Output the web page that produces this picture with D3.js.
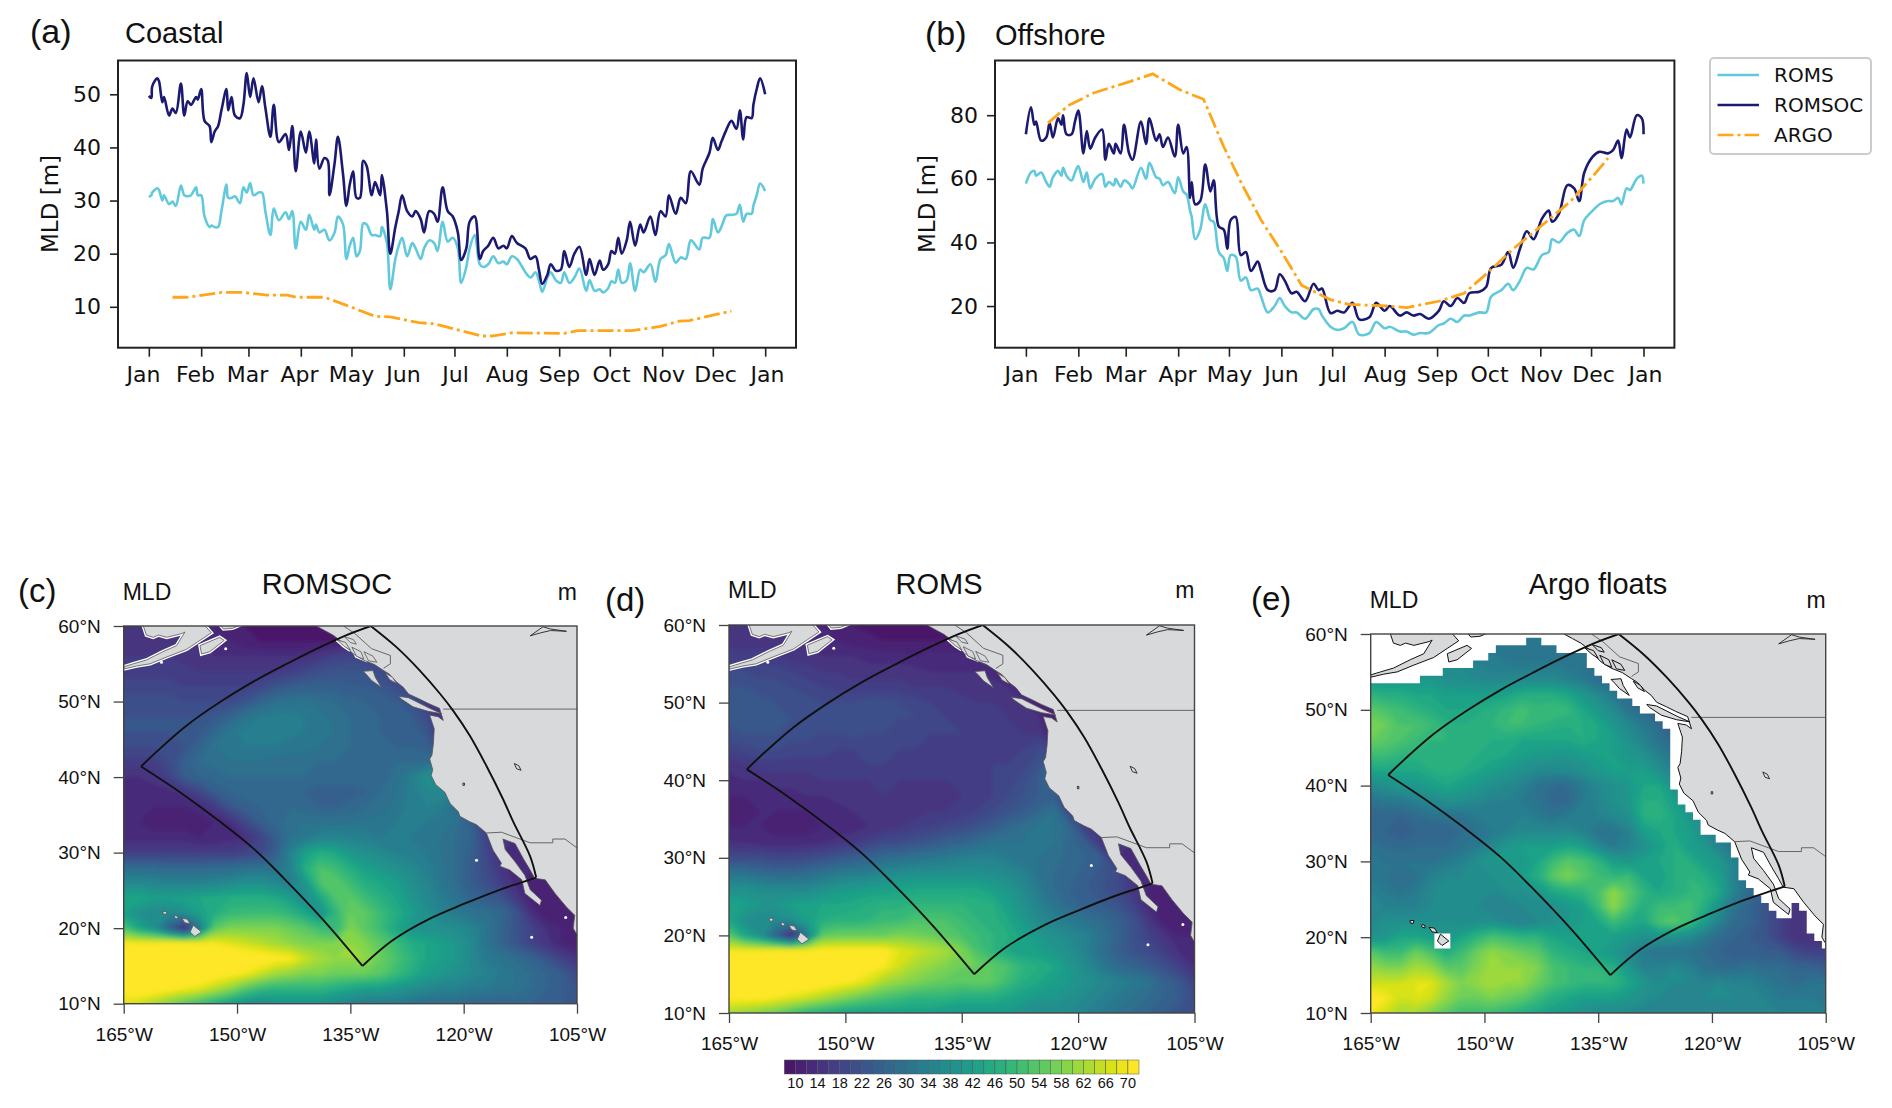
<!DOCTYPE html>
<html>
<head>
<meta charset="utf-8">
<script src="https://cdnjs.cloudflare.com/ajax/libs/d3/7.8.5/d3.min.js"></script>
<style>
  body { margin: 0; background: #fff; }
  svg { display: block; }
  .sans { font-family: "Liberation Sans", sans-serif; fill: #111; }
  .dv { font-family: "DejaVu Sans", sans-serif; fill: #111; }
</style>
</head>
<body>
<svg id="fig" width="1892" height="1108"></svg>
<script>
// ---- time series (day of year, MLD in m)
var monthLabels = ["Jan","Feb","Mar","Apr","May","Jun","Jul","Aug","Sep","Oct","Nov","Dec","Jan"];
var monthDays = [0,31,59,90,120,151,181,212,243,273,304,334,365];

var coastalDays = [0,1.5,2,5,6,8,9,12,14,16,19,21,23,25,28,29,31,33,36,37,39,41,43,46,47,49,51,54,56,58,60,62,65,67,69,72,74,77,81,83,85,87,90,93,95,98,99,101,104,106,107,110,112,115,117,119,121,123,125,127,129,132,134,137,138,141,143,146,148,150,153,156,158,161,163,166,169,171,174,177,180,183,185,188,190,193,196,198,201,204,207,210,212,215,218,223,226,229,231,233,236,238,241,244,246,249,252,255,259,261,264,267,269,272,274,276,278,280,283,285,288,291,293,297,300,303,306,308,312,315,318,321,326,328,332,334,337,339,342,345,348,350,352,354,357,358,360,362,365];
var coastalRomsoc = [49.7,49.3,51.5,53,52.5,48.5,49.5,46,47.3,46.5,52,46,48.7,48,49.5,49,51,45,44,41,43,44,47,51,47,49.5,46,45.5,48,54,49.5,53,48.5,51.5,47.5,42,48,41,42.5,39.5,44,35.5,43,39,43,37,41.5,36,38,37.5,31,37,42,35,29,33,35.5,30.5,30.5,37.5,36.5,31,33.5,31,34.8,28,20,25,28,31,28,27,28,26.5,24,28,27.5,26,32.5,28,27,24,18.8,21,26,27,19,20.5,21.5,23,21,21.5,21,23.3,22,21,19,19.5,17,14.3,16,18,16.8,17,20.5,17.5,20,21.3,16,19,16,18.7,17,18,20.5,20,23,20,22.5,26,21.5,25.5,24,27,23.5,28,27,31,27.5,30.5,29.5,35.5,33,36,39,41.8,39.5,41,43.3,45,43.5,47,41.5,45.7,45.5,48,51,53,50];
var coastalRoms = [30.7,31,31.5,32.3,32,30,31,29.3,29.8,29,32.8,31,30.8,31,32.5,31,31,27,25,25.3,25,25,28,33,30.5,30.5,30.8,29.5,32.5,31.5,33.3,31,31.5,31.5,28,23.5,28.5,26.3,27.8,26.5,28,21,26,24.5,27.3,24.5,25.5,24,24.5,23,22.5,24,27,25.5,19,21.5,23,19.5,20.5,25.7,25.5,23.5,23.5,23.3,25,22,13.3,19,21.5,23,19.5,22,21,19,21,22.5,22,20.5,26,22.3,23,21,14.5,17.5,21,23.5,18,17.5,18,19.5,18.2,18.5,18,19.5,19,16.5,15.5,16.5,15,12.8,15.5,16.5,15,14.5,16.5,14.5,15.5,17.2,13,15,13,13.3,12.7,13.5,14.8,14.5,17,14.5,15,18.2,13,17,16.5,18,14.7,19,19.7,21.8,18.3,19.3,19,22.5,20.8,23,23,26.5,24,25,27.2,27.3,27.5,29.2,26,27.5,27.5,29,31,33.2,31.8];
var coastalArgoDays = [14,23,43,56,70,82,87,104,116,134,143,160,169,181,197,203,215,246,254,286,303,314,320,345];
var coastalArgo = [11.8,11.8,12.7,12.7,12.2,12.2,11.8,11.8,10.4,8.2,8.1,7.0,6.8,5.8,4.5,4.5,5.1,5.0,5.5,5.5,6.3,7.3,7.4,9.2];

var offshoreDays = [0,3,5,6,9,12,14,16,19,21,22,24,27,29,31,34,36,38,41,45,47,49,52,53,56,58,61,63,68,71,73,77,79,81,84,88,90,93,95,97,98,100,103,106,109,111,114,117,119,121,124,127,130,133,137,139,143,147,150,153,157,160,165,170,173,175,180,184,188,193,197,203,207,212,215,221,225,229,233,238,244,247,251,255,259,262,268,272,275,281,285,288,292,296,300,305,309,311,315,320,324,327,330,335,339,344,347,350,352,355,357,361,364,365];
var offshoreRomsoc = [74,82.5,77,78,72,73,77.5,73,79,77,80,74,74,78,81.5,68,75,69.5,73,75.5,66,71,68,71,68,77,68,66,78,71,79,72,74,70,73,67,77,68,70,54,59,52,53,64.5,56,59.5,45,44,38,47,48,36,37,31,34,31,25,25,30,28,24,24.5,21.5,27,25,25.5,17.8,18.5,18,21,15.8,16.5,21,18.5,20,17,18,17,17.5,16,18.5,21.5,20,22.5,21,24,24.5,26,32,33,37,32,38,43.5,41,47.5,50,46.5,49,58,57,53,62,67,68.5,68,69,72,66.5,75.5,73,80,79,74];
var offshoreRoms = [58.5,62,62.5,61,62,59,57.5,60.5,62.5,61,63.5,61,59.5,62,64,59,62,57,60,61.5,57.5,59,58,60,57.5,59.5,58.5,57,63.5,60,65,60.5,60,58,59,55.5,60.5,56,55,50,48,41,44,52,47,46.5,37,35,31,36,35.5,28,29,25,25.5,23,18,20,22.5,20,18,18,16,19,19,17,13.5,12.5,13,15,11,11.5,15,13,13.5,12,12,11,11.5,11.5,14,14.5,16,15,17,17,18,18,23,25,27,25,28,32,31.5,36,37,41,40,43,44,42,47,50,52,53,53,54,52,57,56.5,60,61,58.5];
var offshoreArgoDays = [13,25,40,61,75,91,105,117,128,139,150,163,180,191,214,225,244,259,274,288,303,322,337,344];
var offshoreArgo = [77.5,83,87,90.5,93,88,85,70,58,47,38,26.5,22,20.5,20,19.5,21.5,24,31,38,44.5,53,62,66.5];

var coastalTicks = [10,20,30,40,50];
var offshoreTicks = [20,40,60,80];

// ---- map axes and colour levels
var lonTicks = [-165,-150,-135,-120,-105];
var latTicks = [10,20,30,40,50,60];
var levels = [10,12,14,16,18,20,22,24,26,28,30,32,34,36,38,40,42,44,46,48,50,52,54,56,58,60,62,64,66,68,70];
var levelLabels = [10,14,18,22,26,30,34,38,42,46,50,54,58,62,66,70];

// grids: 2 degree cells, rows from 60N to 10N, columns from 165W to 105W
var gridCols = 31, gridRows = 26;
var romsocGrid = [
14,14,14,14,14,13,12,11,10,9,8,8,8,8,9,10,10,10,10,10,10,10,10,10,10,10,10,10,10,10,10,
15,15,15,15,15,14,13,12,11,10,10,10,10,10,10,10,10,10,10,10,10,10,10,10,10,10,10,10,10,10,10,
16,16,16,16,15,15,14,14,14,14,14,14,14,16,18,19,18,14,12,12,12,12,12,12,12,12,12,12,12,12,12,
17,17,17,17,17,16,16,16,16,16,16,17,19,21,22,22,22,20,16,14,14,14,14,14,14,14,14,14,14,14,14,
19,19,19,19,18,18,18,18,18,19,22,24,25,25,25,24,24,23,21,17,14,14,14,14,14,14,14,14,14,14,14,
21,21,21,21,20,20,20,20,22,26,29,30,30,29,28,27,26,25,24,22,16,14,14,14,14,14,14,14,14,14,14,
22,22,22,22,22,22,23,26,30,32,33,33,32,31,29,28,27,26,25,24,21,14,14,14,14,14,14,14,14,14,14,
22,22,22,22,22,23,27,31,33,34,34,33,32,31,30,28,27,26,25,25,23,14,14,14,14,14,14,14,14,14,14,
20,20,20,20,22,26,30,31,32,32,32,31,31,30,29,28,27,27,26,26,25,20,15,15,15,15,15,15,15,15,15,
17,17,17,20,25,28,29,30,30,30,29,29,29,28,28,27,27,27,28,28,28,33,33,33,33,33,33,33,33,33,33,
14,14,15,18,24,26,27,28,28,28,28,28,28,27,27,27,27,27,29,33,38,38,38,38,38,38,38,38,38,38,38,
13,13,13,13,15,19,24,26,27,27,27,27,26,25,25,25,26,28,30,33,35,36,34,34,34,34,34,34,34,34,34,
12,12,12,12,12,13,16,22,25,26,27,28,27,26,26,27,28,29,31,33,34,33,28,24,24,24,24,24,24,24,24,
12,12,11,11,11,11,12,14,19,24,27,29,30,30,30,30,31,31,32,32,32,31,30,24,16,16,16,16,16,16,16,
13,13,13,13,13,12,12,13,14,18,24,30,32,34,35,34,33,32,32,32,31,30,28,26,18,14,14,14,14,14,14,
17,17,17,17,17,17,17,17,18,19,24,34,42,46,44,40,38,36,34,33,32,30,28,25,19,14,12,12,12,12,12,
28,28,28,27,27,27,28,28,29,30,29,34,46,52,50,46,42,40,38,36,33,31,28,24,20,15,12,12,12,12,12,
36,36,35,34,34,34,35,36,38,38,36,32,40,52,54,50,46,44,42,38,35,31,28,24,21,17,13,11,10,10,10,
44,44,42,42,43,44,45,46,46,46,45,42,36,44,52,54,50,47,44,40,36,33,30,26,24,22,16,11,10,10,10,
42,38,36,36,38,42,46,49,50,50,50,48,44,38,48,56,54,50,46,42,38,34,32,30,29,27,22,14,10,10,10,
52,44,38,25,12,30,54,58,58,58,58,56,54,50,48,58,54,50,44,40,38,38,37,35,31,26,22,18,14,12,11,
70,70,70,72,72,70,70,68,66,64,62,60,58,58,58,60,58,54,50,46,44,42,40,36,30,26,22,18,15,12,11,
72,74,76,76,76,76,76,76,74,74,72,71,66,62,60,60,60,56,52,48,44,42,40,36,32,30,28,26,22,18,15,
74,76,76,76,76,76,74,72,70,66,62,60,58,58,56,56,56,54,50,46,42,40,38,36,34,32,30,28,26,24,20,
72,74,74,72,70,68,64,60,54,50,48,48,48,48,46,44,42,42,40,38,36,34,34,32,32,30,30,28,26,24,22,
68,66,62,58,54,50,46,42,38,36,38,38,38,38,36,34,32,32,32,30,28,28,28,26,26,26,26,26,24,24,22
];
var romsGrid = [
14,14,14,14,13,13,12,11,10,9,8,8,8,9,9,10,10,10,10,10,10,10,10,10,10,10,10,10,10,10,10,
15,15,15,15,15,14,13,12,11,11,10,10,10,10,10,10,10,10,10,10,10,10,10,10,10,10,10,10,10,10,10,
17,17,17,16,15,15,14,14,14,13,13,13,12,13,13,13,12,11,11,11,11,11,11,11,11,11,11,11,11,11,11,
20,20,19,19,18,17,16,16,15,15,15,15,15,14,14,14,14,13,11,11,11,11,11,11,11,11,11,11,11,11,11,
22,22,21,21,20,19,18,17,17,17,17,17,16,16,16,15,15,15,14,12,11,11,11,11,11,11,11,11,11,11,11,
23,23,23,22,21,21,20,20,20,21,21,20,19,18,17,17,16,16,15,14,11,11,11,11,11,11,11,11,11,11,11,
23,23,23,23,22,21,21,21,21,22,21,20,20,19,18,17,17,16,16,15,14,10,10,10,10,10,10,10,10,10,10,
21,22,22,22,21,21,20,20,21,20,20,19,19,18,18,18,17,17,16,16,16,10,10,10,10,10,10,10,10,10,10,
18,19,20,20,19,19,19,18,18,19,18,18,18,17,17,17,17,17,17,18,20,18,18,18,18,18,18,18,18,18,18,
15,16,17,17,17,17,17,17,17,18,18,17,17,16,16,16,17,18,18,19,22,28,28,28,28,28,28,28,28,28,28,
13,14,14,15,15,15,16,16,16,16,16,16,16,16,16,16,17,18,19,21,24,26,26,26,26,26,26,26,26,26,26,
12,12,13,13,13,14,14,15,15,15,16,15,14,14,15,16,17,18,20,22,24,24,14,14,14,14,14,14,14,14,14,
11,11,12,12,12,12,12,13,14,14,14,14,15,16,16,17,18,20,22,24,27,30,18,18,18,18,18,18,18,18,18,
12,12,12,11,11,11,12,12,13,14,15,16,17,18,19,20,22,24,27,29,31,30,27,16,16,16,16,16,16,16,16,
14,14,13,13,13,13,14,15,16,18,20,20,22,23,25,26,28,30,30,30,30,30,27,24,14,14,14,14,14,14,14,
20,20,20,19,19,20,21,23,24,26,28,29,30,31,32,34,34,34,32,30,30,29,27,26,24,14,12,12,12,12,12,
30,30,28,27,27,28,30,32,33,33,36,37,38,38,38,38,38,37,36,34,30,28,27,25,23,20,14,12,12,12,12,
38,38,37,36,36,36,38,40,41,42,42,43,44,44,44,44,44,42,40,36,32,28,26,24,22,20,16,12,10,10,10,
44,42,40,40,42,43,44,44,45,46,47,47,48,48,48,48,47,46,42,38,34,30,27,25,24,22,18,13,10,10,10,
44,38,36,36,38,42,46,47,47,48,50,50,52,52,52,50,48,47,44,40,36,34,32,30,28,25,22,16,11,10,10,
54,44,38,25,12,30,54,56,56,56,56,58,57,56,54,52,50,48,46,43,40,38,36,34,30,26,22,18,15,12,12,
70,70,70,72,72,72,72,72,72,72,72,68,66,64,62,58,52,48,44,42,42,40,38,34,29,25,22,20,17,14,12,
72,74,76,76,76,76,76,76,74,72,70,66,62,60,58,56,56,54,52,48,46,44,40,36,32,28,26,24,21,18,14,
74,76,76,76,76,76,74,72,70,67,62,60,58,56,55,54,55,54,50,46,44,42,40,38,36,34,32,30,26,23,18,
72,72,72,70,68,66,63,60,57,54,52,50,48,48,48,46,46,46,44,42,40,40,38,36,34,32,30,28,26,24,20,
62,60,58,56,52,48,46,44,42,42,42,42,42,42,40,40,40,40,40,38,36,36,36,34,32,30,28,26,24,22,20
];
var argoGrid = [
32,32,32,32,32,32,32,32,30,30,30,30,30,30,30,30,30,30,30,30,30,30,30,30,30,30,30,30,30,30,30,
34,34,34,34,34,34,34,33,32,31,31,31,31,30,30,30,30,30,30,30,30,30,30,30,30,30,30,30,30,30,30,
36,36,36,36,36,36,36,34,32,32,32,32,32,31,30,28,26,26,26,26,26,26,26,26,26,26,26,26,26,26,26,
40,40,40,40,40,38,37,36,36,36,36,36,36,34,32,28,26,24,24,24,24,24,24,24,24,24,24,24,24,24,24,
48,46,46,44,44,42,42,42,42,43,46,46,46,44,40,36,32,28,24,24,24,24,24,24,24,24,24,24,24,24,24,
54,52,50,48,46,44,44,45,47,49,51,49,50,49,44,40,36,30,26,24,24,24,24,24,24,24,24,24,24,24,24,
58,56,52,52,50,47,46,47,48,50,50,48,47,46,46,44,40,36,32,28,24,24,24,24,24,24,24,24,24,24,24,
56,54,52,50,48,48,46,46,46,46,44,44,44,44,46,44,42,38,34,30,26,22,22,22,22,22,22,22,22,22,22,
50,50,48,47,47,47,46,46,45,44,42,41,40,40,41,42,42,40,38,34,30,24,24,24,24,24,24,24,24,24,24,
44,44,44,44,46,47,46,44,42,40,38,36,36,36,38,40,42,42,42,38,34,30,30,30,30,30,30,30,30,30,30,
36,38,40,40,42,44,42,40,38,36,34,30,28,28,32,36,38,40,44,44,38,32,32,32,32,32,32,32,32,32,32,
30,32,32,34,36,38,38,36,34,34,32,30,27,27,32,35,38,40,46,46,42,36,34,34,34,34,34,34,34,34,34,
26,26,26,28,30,30,30,32,32,33,34,32,30,32,32,34,36,38,46,48,44,40,36,36,36,36,36,36,36,36,36,
26,26,25,26,26,26,28,30,32,34,36,36,36,36,34,30,30,34,42,44,44,42,36,32,32,32,32,32,32,32,32,
30,28,27,28,28,28,30,32,36,40,42,42,42,44,42,36,32,34,38,42,46,42,40,34,30,30,30,30,30,30,30,
32,30,30,30,30,32,34,38,40,40,40,44,50,54,52,48,42,40,42,44,46,46,42,40,34,30,30,30,30,30,30,
32,30,28,30,34,36,36,36,38,38,42,46,54,58,54,50,48,50,44,42,46,48,46,42,34,28,26,26,26,26,26,
34,32,30,32,36,38,38,36,36,38,38,40,44,46,48,52,60,54,48,44,46,48,48,44,34,28,24,20,18,18,18,
34,34,34,34,36,36,36,36,34,34,36,36,38,40,42,50,60,52,46,50,50,52,46,38,30,26,22,18,14,14,14,
36,38,38,38,38,38,36,38,38,36,34,36,38,40,42,44,50,46,44,52,54,50,42,34,28,26,22,18,14,14,14,
38,40,44,44,42,40,44,48,52,50,48,48,44,42,42,42,42,40,38,38,38,36,32,28,26,24,22,18,14,14,14,
54,50,50,56,52,46,50,56,60,58,56,54,48,46,44,42,40,36,32,30,30,30,28,26,24,24,24,24,20,18,18,
60,58,58,62,60,54,54,58,62,60,60,58,52,50,48,48,46,40,34,34,36,34,30,28,28,30,28,28,26,26,24,
66,66,66,68,68,62,58,60,62,60,60,56,52,50,48,48,48,44,40,36,36,36,34,36,34,34,32,30,28,30,30,
72,70,66,68,66,60,56,56,58,56,54,50,46,44,42,42,42,40,38,36,34,34,36,36,36,34,34,32,32,32,30,
70,66,62,62,58,54,50,50,50,48,46,44,42,40,38,36,36,36,34,34,34,34,34,34,34,34,34,34,34,34,34
];

// ---- geography in lon/lat
var mainland = [[-139.5,61],[-139.5,60],[-138.4,59.4],[-137.3,58.8],[-136.1,57.9],[-135.3,57],[-134.6,56.3],[-133.3,55.5],[-131.8,54.9],[-130.6,54.1],[-129.8,53.6],[-128.9,52.6],[-128,51.9],[-127.3,51],[-126,50.4],[-124.8,49.8],[-123.2,49.1],[-122.7,47.5],[-123.4,48],[-124.5,48.2],[-124.1,47],[-123.9,46.4],[-124,44.5],[-124.2,42.9],[-124.5,42.4],[-124.1,41],[-124.3,40.2],[-123.7,39],[-122.5,38],[-121.8,36.5],[-120.7,35.4],[-120.5,34.8],[-119.2,34.1],[-118.3,33.7],[-117,32.6],[-116.1,30.3],[-115,28.6],[-115.2,28.2],[-113.9,27.7],[-112.3,26.4],[-111.9,24.6],[-109.9,23],[-109.7,23.7],[-111.2,25.1],[-111.9,27],[-113.2,28.8],[-114.5,30.4],[-114.8,31.8],[-113.2,31.2],[-112.1,29.2],[-111.2,27.7],[-110.6,26.6],[-109.2,26.4],[-107.9,24.6],[-106.4,22.8],[-105.3,21.7],[-105.5,20],[-105.1,19.3],[-104,19],[-104,61]];
var alaska = [[-162.4,61],[-162.4,60],[-162,58.8],[-161.1,58.5],[-160.4,58.8],[-159.3,58.5],[-157.3,59],[-156.9,59.2],[-158,57.4],[-159.8,56.6],[-162,55.5],[-163.7,55],[-165,54.6],[-165,54.3],[-163.3,54.7],[-161.5,55],[-159.3,55.9],[-156.7,56.9],[-154.9,58.1],[-153.4,59.1],[-154.2,60],[-154.2,61]];
var kenai = [[-152.3,60.2],[-151.8,59.6],[-150.6,59.7],[-149.4,60.2]];
var kodiak = [[-154.9,57.4],[-152.3,58.5],[-151.7,58.1],[-153.6,56.6],[-154.7,56.3]];
var vancouverIsland = [[-128.6,50.7],[-127.3,50.5],[-124.5,49.1],[-122.9,48.4],[-124.7,48.7],[-126.7,49.3],[-128.2,50.3]];
var haidaGwaii = [[-133.3,54],[-132,54.1],[-131.7,53.2],[-130.9,51.9],[-132.2,52.8],[-132.8,53.5]];
var panhandleIslands = [[[-136.8,58.2],[-135.6,57.8],[-135,56.8],[-135.8,57.3]],[[-134.8,57.2],[-133.6,56.6],[-133.2,55.6],[-134.2,56]],[[-133.2,56.6],[-132,56],[-131.5,55.2],[-132.6,55.4]],[[-135.8,58.6],[-134.6,58.2],[-134.2,57.6],[-135,57.8]],[[-130.4,53.8],[-129.4,53.2],[-128.9,52.4],[-129.8,52.9]]];
var hawaii = [[[-155.8,20.4],[-154.7,19.5],[-155.6,18.9],[-156.2,19.5]],[[-157.3,21.3],[-156.6,21.2],[-156.2,20.6],[-156.9,20.7]],[[-158.2,21.7],[-157.8,21.5],[-157.9,21.2],[-158.3,21.4]],[[-159.8,22.2],[-159.3,22.2],[-159.4,21.8],[-159.8,21.9]]];
var lakes = [[[-111.2,58.7],[-109.5,59.9],[-108.5,59.6],[-106.4,59.3],[-108.5,59.4],[-109.8,59.1]],[[-113.3,41.8],[-112.7,41.5],[-112.4,40.9],[-113,41.1]],[[-120.1,39.2],[-119.9,39.2],[-119.9,38.9],[-120.1,38.9]]];
var borders = [[[-122.7,49],[-104,49]],[[-135.9,60],[-134.4,59],[-132.2,57],[-129.7,56.1],[-129.7,55],[-130.6,54.4]],[[-117,32.6],[-115,32.7],[-111.2,31.3],[-108.2,31.3],[-108.2,31.8],[-106.6,31.8],[-105.1,30.7],[-104,30]]];
var specks = [[-118.3,29],[-111,18.8],[-106.5,21.4],[-151.5,57],[-160,55.2]];
var domainArcs = [
  [[-162.7,41.4],[-160.6,43.4],[-156.7,46.8],[-152.3,49.9],[-147.9,52.6],[-143.4,55],[-139,57.2],[-135.5,58.8],[-132.3,60]],
  [[-132.3,60],[-128.9,57.2],[-125.8,54.1],[-123.1,51],[-121.4,48.8],[-119.2,45.5],[-117,41.5],[-114.8,37.1],[-113.4,34],[-111.2,29.5],[-110.4,26.7]],
  [[-133.4,15],[-129.4,18.4],[-124.6,21.2],[-120,23.2],[-115.6,24.95],[-112.5,26],[-110.4,26.7]],
  [[-162.7,41.4],[-157.7,38.1],[-152.5,34.3],[-147.9,30.6],[-143.8,26.6],[-138.6,21.1],[-133.4,15]]
];
// cells that hold Argo data, traced along the 1 degree staircase
var argoValid = [[-166,9],[-166,53.5],[-158.5,53.5],[-158.5,54.5],[-155.5,54.5],[-155.5,55.5],[-151.5,55.5],[-151.5,56.5],[-149.5,56.5],[-149.5,57.5],[-148.5,57.5],[-148.5,58.5],[-144.5,58.5],[-144.5,59.5],[-142.5,59.5],[-142.5,58.5],[-140.5,58.5],[-140.5,57.5],[-136.5,57.5],[-136.5,55.5],[-135.5,55.5],[-135.5,54.5],[-134.5,54.5],[-134.5,53.5],[-133.5,53.5],[-133.5,52.5],[-132.5,52.5],[-132.5,51.5],[-130.5,51.5],[-130.5,50.5],[-129.5,50.5],[-129.5,49.5],[-127.5,49.5],[-127.5,48.5],[-126.5,48.5],[-126.5,47.5],[-125.5,47.5],[-125.5,39.5],[-124.5,39.5],[-124.5,37.5],[-123.5,37.5],[-123.5,36.5],[-122.5,36.5],[-122.5,35.5],[-121.5,35.5],[-121.5,33.5],[-119.5,33.5],[-119.5,32.5],[-117.5,32.5],[-117.5,30.5],[-116.5,30.5],[-116.5,27.5],[-115.5,27.5],[-115.5,26.5],[-114.5,26.5],[-114.5,25.5],[-113.5,25.5],[-113.5,24.5],[-112.5,24.5],[-112.5,23.5],[-111.5,23.5],[-111.5,22.5],[-109.5,22.5],[-109.5,24.5],[-108.5,24.5],[-108.5,23.5],[-107.5,23.5],[-107.5,20.5],[-106.5,20.5],[-106.5,19.5],[-105.5,19.5],[-105.5,18.5],[-104,18.5],[-104,9]];
var argoHole = [[-156.6,20.5],[-154.5,20.5],[-154.5,18.5],[-156.6,18.5]];

var svg = d3.select("#fig");
var viridis = function(i) { return d3.interpolateViridis(0.06 + 0.94 * i / 31); };

svg.append("defs").append("filter").attr("id", "soft")
  .attr("x", "-5%").attr("y", "-5%").attr("width", "110%").attr("height", "110%")
  .append("feGaussianBlur").attr("stdDeviation", 2);

function addText(cls, x, y, size, str, anchor) {
  return svg.append("text").attr("class", cls).attr("x", x).attr("y", y)
    .attr("font-size", size).attr("text-anchor", anchor || "start").text(str);
}

function lineChart(c) {
  var x = d3.scaleLinear().domain([-18.25, 383.25]).range([c.left, c.right]);
  var y = d3.scaleLinear().domain(c.yDomain).range([347.7, 60.5]);
  var g = svg.append("g");
  var line = d3.line().x(function(d) { return x(d[0]); }).y(function(d) { return y(d[1]); });
  var wiggle = d3.line().curve(d3.curveCatmullRom).x(function(d) { return x(d[0]); }).y(function(d) { return y(d[1]); });

  g.append("path").datum(d3.zip(c.days, c.roms)).attr("d", wiggle)
    .attr("fill", "none").attr("stroke", "#62c9dd").attr("stroke-width", 2.6);
  g.append("path").datum(d3.zip(c.days, c.romsoc)).attr("d", wiggle)
    .attr("fill", "none").attr("stroke", "#1c1a70").attr("stroke-width", 2.6);
  g.append("path").datum(d3.zip(c.argoDays, c.argo)).attr("d", line)
    .attr("fill", "none").attr("stroke", "#ffa51a").attr("stroke-width", 2.8)
    .attr("stroke-dasharray", "16 4 3 4");

  g.append("rect").attr("x", c.left).attr("y", 60.5)
    .attr("width", c.right - c.left).attr("height", 347.7 - 60.5)
    .attr("fill", "none").attr("stroke", "#222").attr("stroke-width", 2);

  // month ticks sit on the real days, their labels are evenly spaced
  var xAxis = g.append("g").attr("transform", "translate(0,347.7)")
    .call(d3.axisBottom(x).tickValues(monthDays).tickSize(9).tickFormat(""));
  xAxis.select(".domain").remove();
  var labelScale = d3.scaleLinear().domain([0, 12]).range(c.labelRange);
  var labelAxis = g.append("g").attr("transform", "translate(0,347.7)")
    .call(d3.axisBottom(labelScale).tickValues(d3.range(13)).tickSize(0).tickPadding(19)
      .tickFormat(function(i) { return monthLabels[i]; }));
  labelAxis.select(".domain").remove();
  labelAxis.selectAll("text").attr("class", "dv").attr("font-size", 22).attr("font-family", null);

  var yAxis = g.append("g").attr("transform", "translate(" + c.left + ",0)")
    .call(d3.axisLeft(y).tickValues(c.yTicks).tickSize(8).tickPadding(9));
  yAxis.select(".domain").remove();
  yAxis.selectAll("text").attr("class", "dv").attr("font-size", 22).attr("font-family", null);
  g.selectAll(".tick line").attr("stroke", "#222").attr("stroke-width", 1.6);

  addText("dv", 0, 0, 23, "MLD [m]", "middle")
    .attr("transform", "translate(" + c.yLabelX + ",204) rotate(-90)");
}

lineChart({left: 118, right: 796, yDomain: [2.3, 56.36], yTicks: coastalTicks, labelRange: [143, 767],
  days: coastalDays, roms: coastalRoms, romsoc: coastalRomsoc, argoDays: coastalArgoDays, argo: coastalArgo, yLabelX: 58});
lineChart({left: 995, right: 1674.4, yDomain: [6.9, 97.2], yTicks: offshoreTicks, labelRange: [1021, 1645],
  days: offshoreDays, roms: offshoreRoms, romsoc: offshoreRomsoc, argoDays: offshoreArgoDays, argo: offshoreArgo, yLabelX: 935});

addText("sans", 30, 43, 34, "(a)");
addText("sans", 125, 43, 29, "Coastal");
addText("sans", 925, 45, 34, "(b)");
addText("sans", 995, 45, 29, "Offshore");

// legend
svg.append("rect").attr("x", 1710).attr("y", 58).attr("width", 161).attr("height", 96).attr("rx", 4)
  .attr("fill", "#fff").attr("stroke", "#ccc").attr("stroke-width", 2);
var legendItems = [["ROMS", "#62c9dd", null, 75], ["ROMSOC", "#1c1a70", null, 105], ["ARGO", "#ffa51a", "16 4 3 4", 135]];
legendItems.forEach(function(d) {
  svg.append("line").attr("x1", 1717.5).attr("x2", 1759).attr("y1", d[3]).attr("y2", d[3])
    .attr("stroke", d[1]).attr("stroke-width", 2.5).attr("stroke-dasharray", d[2]);
  addText("dv", 1774, d[3] + 7, 20, d[0]);
});

var clipCount = 0;
function mapPanel(m) {
  var x = d3.scaleLinear().domain([-165, -105]).range([m.left, m.right]);
  var y = d3.scaleLinear().domain([10, 60]).range([m.bottom, m.top]);
  var path = d3.line().x(function(d) { return x(d[0]); }).y(function(d) { return y(d[1]); });
  var closed = function(p) { return path(p) + "Z"; };
  var g = svg.append("g");

  clipCount += 1;
  var frameId = "frame" + clipCount, dataId = "data" + clipCount;
  g.append("clipPath").attr("id", frameId).append("rect")
    .attr("x", m.left).attr("y", m.top).attr("width", m.right - m.left).attr("height", m.bottom - m.top);
  var inside = g.append("g").attr("clip-path", "url(#" + frameId + ")");
  inside.append("rect").attr("x", m.left).attr("y", m.top)
    .attr("width", m.right - m.left).attr("height", m.bottom - m.top)
    .attr("fill", m.valid ? "#fff" : viridis(0));

  // filled contours, the grid's cell centres sit on whole 2 degree steps
  var geo = d3.geoPath(d3.geoTransform({point: function(gx, gy) {
    this.stream.point(x(-165 + (gx - 0.5) * 2), y(60 - (gy - 0.5) * 2));
  }}));
  var clipped = inside.append("g");
  if (m.valid) {
    g.append("clipPath").attr("id", dataId).append("path").attr("d", closed(m.valid));
    clipped.attr("clip-path", "url(#" + dataId + ")");
  }
  var field = clipped.append("g").attr("filter", "url(#soft)");
  field.append("rect").attr("x", m.left - 20).attr("y", m.top - 20)
    .attr("width", m.right - m.left + 40).attr("height", m.bottom - m.top + 40).attr("fill", viridis(0));
  var contours = d3.contours().size([gridCols, gridRows]).thresholds(levels)(m.grid);
  field.selectAll("path.band").data(contours).enter().append("path").attr("class", "band")
    .attr("d", geo).attr("fill", function(d, i) { return viridis(i + 1); });

  if (m.valid) {
    inside.append("path").attr("d", closed(argoHole)).attr("fill", "#fff");
  } else {
    // missing cells hug the coast in the model maps
    [alaska, kodiak, kenai, panhandleIslands[0], panhandleIslands[1]].forEach(function(p) {
      inside.append("path").attr("d", closed(p)).attr("fill", "none").attr("stroke", "#fff").attr("stroke-width", 3.5);
    });
    inside.selectAll("circle.speck").data(specks).enter().append("circle").attr("class", "speck")
      .attr("cx", function(d) { return x(d[0]); }).attr("cy", function(d) { return y(d[1]); })
      .attr("r", 1.5).attr("fill", "#fff");
  }

  var coast = m.valid ? "#111" : "#555", width = m.valid ? 1 : 0.8;
  var solids = [mainland, alaska, kenai, kodiak, vancouverIsland, haidaGwaii].concat(panhandleIslands, hawaii);
  solids.forEach(function(p) {
    inside.append("path").attr("d", closed(p)).attr("fill", "#d8d9db").attr("stroke", coast).attr("stroke-width", width);
  });
  lakes.forEach(function(p) {
    inside.append("path").attr("d", closed(p)).attr("fill", "#d8d9db").attr("stroke", "#222").attr("stroke-width", 0.9);
  });
  borders.forEach(function(p) {
    inside.append("path").attr("d", path(p)).attr("fill", "none").attr("stroke", "#666").attr("stroke-width", 1);
  });

  var arc = d3.line().curve(d3.curveCatmullRom).x(function(d) { return x(d[0]); }).y(function(d) { return y(d[1]); });
  domainArcs.forEach(function(p) {
    inside.append("path").attr("d", arc(p)).attr("fill", "none").attr("stroke", "#111").attr("stroke-width", 1.9);
  });

  g.append("rect").attr("x", m.left).attr("y", m.top)
    .attr("width", m.right - m.left).attr("height", m.bottom - m.top)
    .attr("fill", "none").attr("stroke", "#444").attr("stroke-width", 1.4);

  var xAxis = g.append("g").attr("transform", "translate(0," + m.bottom + ")")
    .call(d3.axisBottom(x).tickValues(lonTicks).tickSize(10).tickPadding(13.5)
      .tickFormat(function(d) { return (-d) + "°W"; }));
  var yAxis = g.append("g").attr("transform", "translate(" + m.left + ",0)")
    .call(d3.axisLeft(y).tickValues(latTicks).tickSize(10).tickPadding(13)
      .tickFormat(function(d) { return d + "°N"; }));
  [xAxis, yAxis].forEach(function(a) {
    a.select(".domain").remove();
    a.selectAll("line").attr("stroke", "#444").attr("stroke-width", 1.3);
    a.selectAll("text").attr("class", "sans").attr("font-size", 19).attr("font-family", null);
  });

  addText("sans", m.tag[0], m.tag[1], 33, m.tag[2]);
  addText("sans", m.left - 1, m.unitY, 23, "MLD");
  addText("sans", m.right, m.unitY, 23, "m", "end");
  addText("sans", m.titleX, 594, 29, m.title, "middle");
}

mapPanel({left: 123.7, right: 577, top: 626, bottom: 1003.7, grid: romsocGrid, title: "ROMSOC", titleX: 327,
  tag: [18, 602, "(c)"], unitY: 600});
mapPanel({left: 729, right: 1194.5, top: 625, bottom: 1013, grid: romsGrid, title: "ROMS", titleX: 939,
  tag: [605, 611, "(d)"], unitY: 598});
mapPanel({left: 1370.7, right: 1825.7, top: 634, bottom: 1013, grid: argoGrid, title: "Argo floats", titleX: 1598,
  tag: [1251, 610, "(e)"], unitY: 608, valid: argoValid});

// colour bar
var barColours = d3.range(32);
var barX = d3.scaleBand().domain(barColours).range([784.3, 1139]);
svg.append("g").selectAll("rect").data(barColours).enter().append("rect")
  .attr("x", function(d) { return barX(d); }).attr("y", 1060)
  .attr("width", barX.bandwidth()).attr("height", 14)
  .attr("fill", function(d) { return viridis(d); })
  .attr("stroke", "#555").attr("stroke-width", 0.5);
svg.append("g").selectAll("text").data(levelLabels).enter().append("text")
  .attr("class", "sans").attr("font-size", 14.5).attr("text-anchor", "middle").attr("y", 1088)
  .attr("x", function(d) { return barX((d - 10) / 2 + 1); })
  .text(function(d) { return d; });
</script>
</body>
</html>
